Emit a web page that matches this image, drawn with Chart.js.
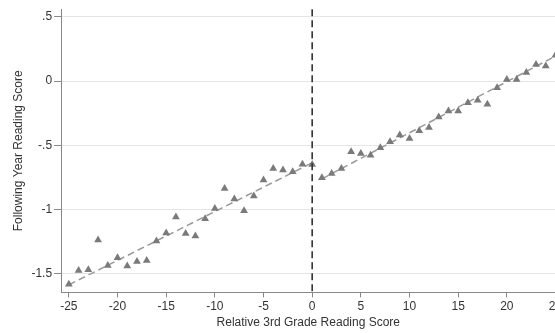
<!DOCTYPE html>
<html>
<head>
<meta charset="utf-8">
<script src="https://cdn.jsdelivr.net/npm/chart.js@4/dist/chart.umd.min.js"></script>
<style>
  html, body { margin: 0; padding: 0; background: #fff; overflow: hidden; }
  #wrap { width: 555px; height: 333px; overflow: hidden; }
</style>
</head>
<body>
<div id="wrap"><canvas id="myChart" width="580" height="333"></canvas></div>
<script>
// relative 3rd grade score (x) and following year reading score (y)
var leftX = [-25, -24, -23, -22, -21, -20, -19, -18, -17, -16, -15, -14, -13, -12, -11, -10, -9, -8, -7, -6, -5, -4, -3, -2, -1, 0];
var leftY = [-1.58, -1.473, -1.467, -1.236, -1.434, -1.374, -1.439, -1.403, -1.395, -1.244, -1.182, -1.058, -1.185, -1.205, -1.071, -0.991, -0.835, -0.918, -1.009, -0.894, -0.770, -0.680, -0.692, -0.705, -0.646, -0.648];
var rightX = [1, 2, 3, 4, 5, 6, 7, 8, 9, 10, 11, 12, 13, 14, 15, 16, 17, 18, 19, 20, 21, 22, 23, 24, 25];
var rightY = [-0.752, -0.718, -0.680, -0.550, -0.563, -0.576, -0.519, -0.472, -0.420, -0.446, -0.386, -0.361, -0.278, -0.233, -0.233, -0.169, -0.148, -0.179, -0.052, 0.012, 0.012, 0.067, 0.129, 0.117, 0.202];

// fitted lines on each side of the cutoff
var leftFitX = [-25, 0];
var leftFitY = [-1.585, -0.635];
var rightFitX = [1, 25];
var rightFitY = [-0.76, 0.195];

var xTicks = [-25, -20, -15, -10, -5, 0, 5, 10, 15, 20, 25];
var yTicks = [-1.5, -1, -0.5, 0, 0.5];

function pts(xs, ys) {
    return xs.map(function (x, i) { return { x: x, y: ys[i] }; });
}

function fmt(v) {
    var s = String(v);
    return s.replace(/^0\./, ".").replace(/^-0\./, "-.");
}

var cutoffLine = {
    id: "cutoffLine",
    afterDatasetsDraw: function (chart) {
        var ctx = chart.ctx;
        var x = chart.scales.x.getPixelForValue(0);
        var area = chart.chartArea;
        ctx.save();
        ctx.strokeStyle = "#333";
        ctx.lineWidth = 1.6;
        ctx.setLineDash([7, 4]);
        ctx.beginPath();
        ctx.moveTo(x, area.top);
        ctx.lineTo(x, area.bottom);
        ctx.stroke();
        ctx.restore();
    }
};

Chart.defaults.font.family = "'Liberation Sans', Arial, sans-serif";
Chart.defaults.font.size = 12;
Chart.defaults.color = "#333";

var ctx = document.getElementById("myChart");
var myChart = new Chart(ctx, {
    type: "scatter",
    data: {
        datasets: [
            {
                data: pts(leftX, leftY),
                pointStyle: "triangle",
                pointRadius: 4.5,
                backgroundColor: "#7a7a7a",
                borderColor: "#7a7a7a",
                borderWidth: 0,
            },
            {
                data: pts(rightX, rightY),
                pointStyle: "triangle",
                pointRadius: 4.5,
                backgroundColor: "#7a7a7a",
                borderColor: "#7a7a7a",
                borderWidth: 0,
            },
            {
                type: "line",
                data: pts(leftFitX, leftFitY),
                borderColor: "#999",
                borderWidth: 1.5,
                borderDash: [7, 4],
                pointRadius: 0,
                fill: false,
            },
            {
                type: "line",
                data: pts(rightFitX, rightFitY),
                borderColor: "#999",
                borderWidth: 1.5,
                borderDash: [7, 4],
                pointRadius: 0,
                fill: false,
            },
        ],
    },
    options: {
        responsive: false,
        animation: false,
        layout: { padding: { top: 6, right: 24.5, left: 11, bottom: 4.5 } },
        plugins: {
            legend: { display: false },
            tooltip: { enabled: false },
        },
        scales: {
            x: {
                type: "linear",
                min: -25.8,
                max: 25,
                afterBuildTicks: function (axis) {
                    axis.ticks = xTicks.map(function (v) { return { value: v }; });
                },
                ticks: { color: "#333", padding: 4, maxRotation: 0, callback: fmt, font: { lineHeight: 0.8 } },
                grid: { drawOnChartArea: false, drawTicks: true, tickLength: 5, tickColor: "#888" },
                border: { color: "#888", width: 1 },
                title: { display: true, text: "Relative 3rd Grade Reading Score", color: "#333", font: { lineHeight: 1 }, padding: { top: 1.5, bottom: 0 } },
            },
            y: {
                min: -1.644,
                max: 0.56,
                afterBuildTicks: function (axis) {
                    axis.ticks = yTicks.map(function (v) { return { value: v }; });
                },
                ticks: { color: "#333", padding: 2, callback: fmt },
                grid: { color: "#e6e6e6", borderDash: [8, 4], lineWidth: 1, tickLength: 7, tickColor: "#888" },
                border: { color: "#888", width: 1 },
                title: { display: true, text: "Following Year Reading Score", color: "#333", padding: { top: 0, bottom: 4 } },
            },
        },
    },
    plugins: [cutoffLine],
});
</script>
</body>
</html>
